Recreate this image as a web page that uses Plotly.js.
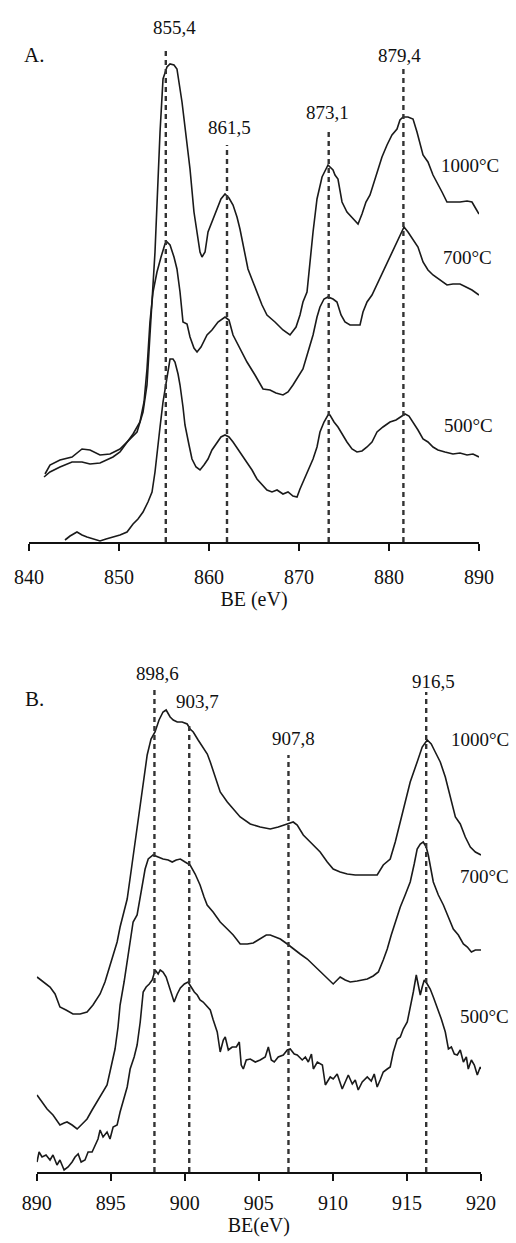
<!DOCTYPE html>
<html>
<head>
<meta charset="utf-8">
<script src="https://cdn.plot.ly/plotly-3.0.1.min.js"></script>
<style>
html,body{margin:0;padding:0;background:#fff;}
#chart{width:516px;height:1243px;}
</style>
</head>
<body>
<div id="chart"></div>
<script>
// ---------- Panel A (Ni 2p region) ----------
const beA_1000 = [841.78,842.33,843.44,844.78,845.89,846.78,847.89,849.0,850.11,851.22,852.0,852.67,853.11,853.44,854.0,854.56,854.89,855.33,855.67,856.11,856.44,857.0,857.44,857.89,858.33,858.67,859.0,859.22,859.56,859.89,860.33,860.89,861.33,861.78,862.22,862.67,863.11,863.44,864.0,864.33,864.89,865.33,865.89,866.44,867.33,868.22,869.0,869.67,870.11,870.44,870.89,871.56,872.0,872.56,873.22,873.78,874.0,874.33,874.78,875.33,875.89,876.56,877.0,877.44,877.89,878.56,879.22,879.78,880.33,880.89,881.22,881.56,882.11,882.67,883.11,883.78,884.33,884.89,885.44,885.89,886.44,887.11,887.89,888.67,889.22,889.67,890.0];
const intA_1000 = [68,77,82,85,93,92,87,88,93,103,110,130,157,207,290,410,463,475,478,477,473,440,405,373,330,307,290,285,290,310,320,333,343,348,344,337,325,313,290,273,260,250,237,227,220,212,207,215,227,240,250,310,343,365,377,372,367,363,340,330,325,318,328,340,347,365,385,397,407,413,422,425,425,423,410,387,380,367,358,350,340,340,340,341,340,333,328];

const beA_700 = [841.67,842.33,843.44,844.78,845.89,846.78,847.89,848.67,849.33,850.11,850.89,851.56,852.33,852.78,853.11,853.44,853.78,854.22,854.67,855.11,855.33,855.67,856.11,856.44,856.78,857.11,857.56,857.89,858.33,858.67,859.11,859.78,860.33,861.0,861.78,862.22,862.67,863.44,864.22,865.11,866.0,866.78,867.44,868.22,868.78,869.33,869.89,870.44,871.0,871.56,872.0,872.33,872.78,873.22,873.78,874.22,874.67,875.11,875.67,876.22,876.78,877.11,877.56,878.11,878.78,879.33,880.11,880.89,881.33,881.67,882.11,882.67,883.22,883.78,884.33,884.89,885.67,886.44,887.11,887.89,888.56,889.22,890.0];
const intA_700 = [65,70,75,80,80,78,79,82,85,90,100,108,120,140,173,220,250,270,285,298,300,297,285,273,250,220,218,205,194,190,195,207,212,220,225,222,207,193,180,167,153,152,149,147,150,157,165,173,190,207,225,235,243,245,243,240,227,220,217,217,217,230,240,247,260,270,285,300,310,315,310,303,295,280,272,267,262,257,258,258,255,252,247];

const beA_500 = [844.0,844.56,845.33,845.89,846.44,847.11,847.89,848.56,849.33,850.11,850.89,851.22,851.56,852.11,852.67,853.22,853.67,854.0,854.22,854.56,854.89,855.33,855.67,856.0,856.22,856.56,856.78,857.11,857.33,857.78,858.11,858.56,859.0,859.44,859.89,860.33,860.89,861.33,861.78,862.22,862.67,863.44,864.22,864.78,865.33,865.89,866.44,867.0,867.56,868.22,868.78,869.33,869.78,870.11,870.44,871.0,871.56,872.0,872.33,872.78,873.22,873.44,873.89,874.33,874.78,875.33,875.89,876.44,877.0,877.56,878.11,878.67,879.33,880.11,880.78,881.33,881.78,882.22,882.67,883.22,883.78,884.33,884.89,885.44,886.22,887.11,887.89,888.67,889.33,890.0];
const intA_500 = [2,6,10,7,5,3,1,3,5,7,10,14,18,23,30,40,50,70,90,115,140,167,183,183,180,168,157,135,117,97,83,75,72,77,83,92,100,105,107,105,100,90,80,72,63,57,52,50,52,48,50,46,45,53,60,72,83,95,110,120,127,127,120,115,108,100,93,90,91,95,100,110,115,120,122,125,128,126,120,112,103,100,95,92,90,88,89,87,88,85];

const peakLinesA = [855.2, 862.0, 873.3, 881.6];
const peakTopsA = [491, 397, 412, 477];
const peakLabelsA = ["855,4", "861,5", "873,1", "879,4"];
const peakLabelXA = [856.2, 862.3, 873.2, 881.2];
const peakLabelYA = [515, 415, 430, 487];
const tempLabels = ["1000°C", "700°C", "500°C"];
const tempLabelXA = [889.0, 888.7, 888.8];
const tempLabelYA = [377, 285, 117];
const ticksA = [840, 850, 860, 870, 880, 890];

// ---------- Panel B (satellite region) ----------
const beB_1000 = [890.02,890.43,890.9,891.24,891.57,891.98,892.45,892.93,893.4,893.8,894.28,894.61,894.95,895.43,895.63,896.11,896.44,896.78,897.12,897.46,897.72,897.99,898.26,898.53,898.74,899.01,899.22,899.49,899.82,900.16,900.36,900.57,900.9,901.24,901.52,901.72,902.06,902.39,902.87,903.27,903.74,904.42,905.09,905.77,906.31,906.91,907.32,907.59,908.0,908.47,909.14,909.62,910.02,910.49,910.97,911.51,911.98,912.52,912.99,913.4,913.87,914.21,914.55,914.88,915.22,915.69,916.03,916.37,916.64,916.91,917.25,917.59,917.93,918.27,918.6,918.94,919.28,919.62,920.0];
const intB_1000 = [195,190,185,178,165,162,158,158,160,167,178,190,207,230,245,273,308,343,380,417,433,440,452,460,462,455,452,450,450,448,443,440,432,425,418,410,395,380,370,363,355,348,345,343,345,348,350,347,337,330,320,310,303,300,298,297,297,297,297,307,313,330,350,370,390,410,425,432,428,420,410,395,375,355,348,335,325,320,317];

const beB_700 = [890.02,890.36,890.7,891.1,891.57,891.85,892.05,892.39,892.73,893.07,893.4,893.74,894.08,894.42,894.75,895.02,895.29,895.49,895.63,895.9,896.11,896.31,896.51,896.78,896.99,897.12,897.32,897.53,897.86,898.2,898.53,898.88,899.15,899.42,899.7,900.02,900.36,900.7,901.03,901.3,901.51,901.91,902.39,902.87,903.27,903.74,904.22,904.62,904.96,905.23,905.5,905.77,906.11,906.45,906.92,907.32,907.79,908.27,908.69,909.14,909.62,910.02,910.29,910.49,910.83,911.17,911.64,912.32,912.72,913.07,913.4,913.67,913.94,914.21,914.55,914.88,915.22,915.49,915.69,915.9,916.1,916.3,916.44,916.78,917.12,917.46,917.8,918.13,918.47,918.81,919.08,919.35,919.62,920.0];
const intB_700 = [77,70,63,57,47,49,50,47,43,48,53,62,70,78,87,105,123,145,167,190,210,230,250,257,275,290,303,313,317,315,313,312,310,312,313,310,307,298,287,275,267,260,250,243,237,228,228,229,232,235,237,237,235,233,228,223,218,213,207,200,194,188,192,195,192,190,191,193,196,200,212,223,237,250,265,277,290,308,323,328,330,325,317,290,277,267,255,243,237,228,225,220,222,222];

const beB_500 = [890.02,890.16,890.36,890.63,890.9,891.1,891.37,891.57,891.85,892.12,892.39,892.59,892.8,893.0,893.26,893.47,893.74,894.01,894.14,894.28,894.48,894.75,894.95,895.16,895.43,895.63,895.84,896.11,896.31,896.58,896.78,896.99,897.19,897.39,897.6,897.8,898.0,898.2,898.34,898.53,898.74,898.95,899.15,899.28,899.49,899.7,899.97,900.22,900.43,900.64,900.84,901.03,901.24,901.51,901.72,901.92,902.19,902.39,902.6,902.73,902.94,903.2,903.48,903.68,903.81,903.95,904.15,904.42,904.76,905.09,905.43,905.64,905.84,906.04,906.31,906.65,906.92,907.12,907.39,907.59,907.93,908.14,908.34,908.55,908.68,908.95,909.29,909.49,909.82,910.02,910.29,910.63,910.83,911.04,911.31,911.51,911.71,911.98,912.32,912.59,912.79,912.99,913.19,913.4,913.67,913.87,914.08,914.35,914.55,914.75,915.02,915.22,915.43,915.63,915.76,915.9,916.03,916.17,916.37,916.57,916.78,917.05,917.32,917.59,917.8,918.0,918.2,918.4,918.6,918.81,919.01,919.14,919.35,919.55,919.75,919.95,920.0];
const intB_500 = [10,20,15,17,12,17,7,12,2,5,10,15,18,10,12,20,20,30,33,42,35,40,33,45,47,60,70,85,103,115,127,150,180,185,188,192,202,198,202,200,195,185,175,170,178,184,188,190,185,180,177,172,170,165,162,152,140,120,132,135,122,125,125,130,107,103,112,113,110,112,115,125,112,110,115,117,122,123,118,117,112,115,110,118,103,110,107,87,95,93,98,83,90,97,88,92,82,90,95,91,98,85,92,100,103,105,120,133,135,143,150,163,180,197,187,177,185,192,188,183,175,165,153,140,123,125,118,117,122,110,115,103,112,107,97,105,103];

const peakLinesB = [897.95, 900.3, 907.0, 916.3];
const peakTopsB = [485, 450, 417, 480];
const peakLabelsB = ["898,6", "903,7", "907,8", "916,5"];
const peakLabelXB = [898.13, 900.83, 907.33, 916.78];
const peakLabelYB = [498, 470, 433, 490];
const tempLabelXB = [919.9, 919.9, 919.9];
const tempLabelYB = [432, 295, 155];
const ticksB = [890, 895, 900, 905, 910, 915, 920];

// ---------- build ----------
const FONT = "'Liberation Serif', 'Times New Roman', serif";
const lineStyle = {color: '#1a1a1a', width: 1.6};

function tr(x, y, xa, ya) {
  return {x: x, y: y, xaxis: xa, yaxis: ya, type: 'scatter', mode: 'lines',
          line: lineStyle, hoverinfo: 'skip', showlegend: false};
}

const data = [
  tr(beA_1000, intA_1000, 'x', 'y'),
  tr(beA_700, intA_700, 'x', 'y'),
  tr(beA_500, intA_500, 'x', 'y'),
  tr(beB_1000, intB_1000, 'x2', 'y2'),
  tr(beB_700, intB_700, 'x2', 'y2'),
  tr(beB_500, intB_500, 'x2', 'y2')
];

const shapes = [];
const dashLine = {color: '#333', width: 2.4, dash: '5px,4px'};
peakLinesA.forEach((e, i) => shapes.push({type: 'line', xref: 'x', yref: 'y', x0: e, x1: e, y0: 0, y1: peakTopsA[i], line: dashLine}));
peakLinesB.forEach((e, i) => shapes.push({type: 'line', xref: 'x2', yref: 'y2', x0: e, x1: e, y0: 0, y1: peakTopsB[i], line: dashLine}));

const annotations = [];
function ann(text, x, y, xr, yr, size, xshift) {
  annotations.push({text: text, x: x, y: y, xref: xr, yref: yr, showarrow: false, xshift: xshift || 0,
    xanchor: 'center', yanchor: 'middle', font: {family: FONT, size: size || 19, color: '#111'}});
}
peakLabelsA.forEach((t, i) => ann(t, peakLabelXA[i], peakLabelYA[i], 'x', 'y'));
tempLabels.forEach((t, i) => ann(t, tempLabelXA[i], tempLabelYA[i], 'x', 'y'));
peakLabelsB.forEach((t, i) => ann(t, peakLabelXB[i], peakLabelYB[i], 'x2', 'y2'));
tempLabels.forEach((t, i) => ann(t, tempLabelXB[i], tempLabelYB[i], 'x2', 'y2', 19, i === 0 ? 0 : 5));
ann('A.', 840.5, 487, 'x', 'y', 21);
ann('B.', 890, 473, 'x2', 'y2', 21, -2);

const xBase = {
  showline: true, linecolor: '#111', linewidth: 1.6, ticks: 'outside', ticklen: 7, tickwidth: 1.6,
  tickcolor: '#111', showgrid: false, zeroline: false, tickfont: {family: FONT, size: 20, color: '#111'},
  fixedrange: true
};
const yBase = {visible: false, showgrid: false, zeroline: false, range: [0, 520], fixedrange: true};

const layout = {
  width: 516, height: 1243,
  margin: {l: 0, r: 0, t: 0, b: 0},
  paper_bgcolor: '#fff', plot_bgcolor: 'rgba(0,0,0,0)',
  showlegend: false,
  xaxis: Object.assign({}, xBase, {domain: [29/516, 479/516], range: [840, 890], tickvals: ticksA,
    ticklabelstandoff: 9, anchor: 'y',
    title: {text: 'BE (eV)', font: {family: FONT, size: 20, color: '#111'}, standoff: 4}}),
  yaxis: Object.assign({}, yBase, {domain: [(1243-542)/1243, (1243-22)/1243], anchor: 'x'}),
  xaxis2: Object.assign({}, xBase, {domain: [36.7/516, 481/516], range: [890, 920], tickvals: ticksB,
    ticklabelstandoff: 5, anchor: 'y2',
    title: {text: 'BE(eV)', font: {family: FONT, size: 20, color: '#111'}, standoff: 3}}),
  yaxis2: Object.assign({}, yBase, {domain: [(1243-1172)/1243, (1243-652)/1243], anchor: 'x2'}),
  shapes: shapes,
  annotations: annotations
};

Plotly.newPlot('chart', data, layout, {displayModeBar: false, staticPlot: true});
</script>
</body>
</html>
